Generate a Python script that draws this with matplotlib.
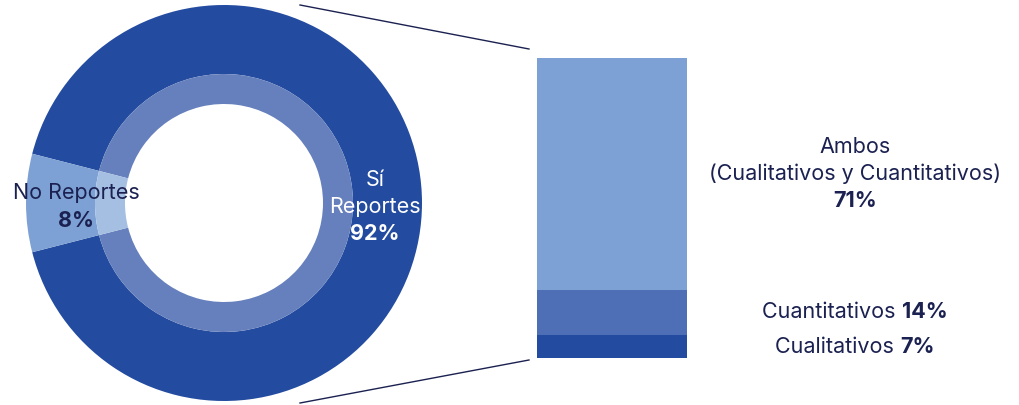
import matplotlib
matplotlib.use("Agg")
import matplotlib.pyplot as plt
from matplotlib.transforms import blended_transform_factory

# Donut: share of organisations that report
report_labels = ["Sí\nReportes", "No Reportes"]
report_values = [92, 8]

# Breakdown of those that report
type_labels = ["Cualitativos", "Cuantitativos", "Ambos\n(Cualitativos y Cuantitativos)"]
type_values = [7, 14, 71]

NAVY = "#1B2150"
outer_colors = ["#234B9F", "#7DA1D4"]
inner_colors = ["#6680BD", "#A5BFE3"]
bar_colors = ["#234B9F", "#4E6FB5", "#7DA1D4"]

plt.rcParams["font.family"] = ["Inter", "DejaVu Sans"]

W, H = 1019, 405
fig = plt.figure(figsize=(W / 100, H / 100), dpi=100)
ax = fig.add_axes([0, 0, 1, 1])

cx, cy, r_out = 224, 202, 198
r_mid, r_in = 129, 99
total = sum(report_values)
start = 180 - 360 * report_values[1] / total / 2 - 360 * report_values[0] / total

ax.pie(report_values, colors=outer_colors, radius=r_out, center=(cx, cy),
       startangle=start, wedgeprops=dict(width=r_out - r_mid, linewidth=0), frame=True)
ax.pie(report_values, colors=inner_colors, radius=r_mid, center=(cx, cy),
       startangle=start, wedgeprops=dict(width=r_mid - r_in, linewidth=0), frame=True)
ax.set_xlim(0, W)
ax.set_ylim(0, H)
ax.set_aspect("equal")
ax.axis("off")

fs = 15.5
LS = 19.6  # line step in points


def lines(axis, x, y, parts, color, trans=None):
    """Stack (text, bold) parts vertically, centred on (x, y)."""
    n = len(parts)
    for i, (txt, bold) in enumerate(parts):
        off = ((n - 1) / 2 - i) * LS
        axis.annotate(txt, (x, y), xycoords=trans if trans is not None else "data",
                      xytext=(0, off), textcoords="offset points",
                      ha="center", va="center", color=color, fontsize=fs,
                      fontweight="bold" if bold else "normal")


# Labels on the donut
si_lines = [(s, False) for s in report_labels[0].split("\n")] + [(f"{report_values[0]}%", True)]
lines(ax, 375, H - 207, si_lines, "white")
lines(ax, 76, H - 207, [(report_labels[1], False), (f"{report_values[1]}%", True)], NAVY)

# Stacked breakdown bar
bx0, bx1, by0, by1 = 537, 687, 47, 347
axb = fig.add_axes([bx0 / W, by0 / H, (bx1 - bx0) / W, (by1 - by0) / H])
axb.set_xlim(-0.5, 0.5)
axb.set_ylim(0, sum(type_values))
axb.axis("off")
trans = blended_transform_factory(ax.transData, axb.transData)
fig.canvas.draw()
renderer = fig.canvas.get_renderer()

bottom = 0
for lab, val, col in zip(type_labels, type_values, bar_colors):
    axb.bar(0, val, width=1, bottom=bottom, color=col, linewidth=0)
    mid = bottom + val / 2
    if "\n" in lab:
        parts = [(s, False) for s in lab.split("\n")] + [(f"{val}%", True)]
        lines(axb, 855, mid, parts, NAVY, trans)
    else:
        t = axb.text(0, mid, lab + " ", ha="left", va="center", color=NAVY,
                     fontsize=fs, transform=trans)
        p = axb.text(0, mid, f"{val}%", ha="left", va="center", color=NAVY,
                     fontsize=fs, fontweight="bold", transform=trans)
        wt = t.get_window_extent(renderer).width
        wp = p.get_window_extent(renderer).width
        x0 = 855 - (wt + wp) / 2
        t.set_x(x0)
        p.set_x(x0 + wt)
    bottom += val

# Connector lines from donut to bar
ax.plot([300, 529], [H - 5, H - 49], color=NAVY, lw=1)
ax.plot([300, 529], [H - 403, H - 360], color=NAVY, lw=1)

fig.savefig("out.png", dpi=100)
